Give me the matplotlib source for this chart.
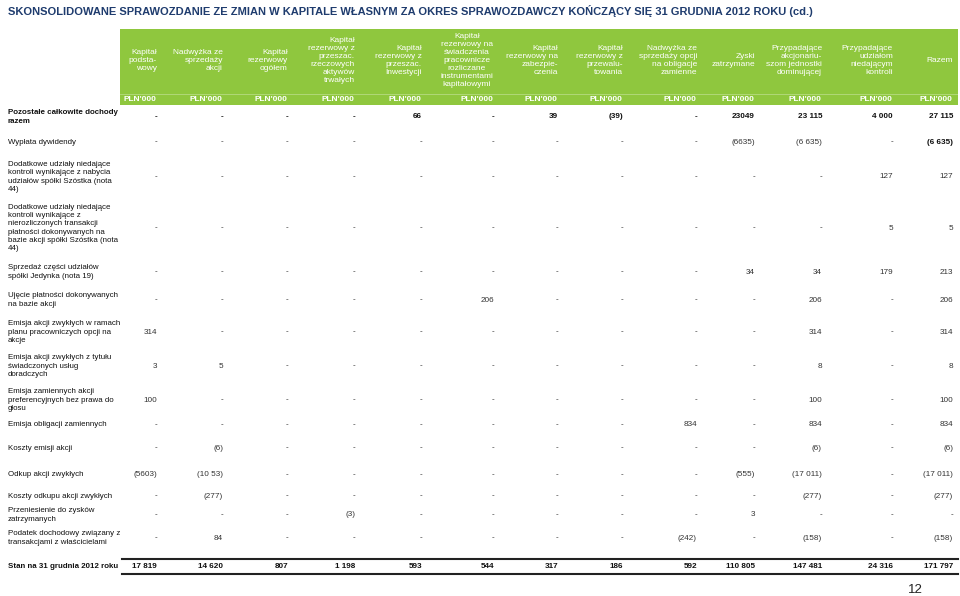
import matplotlib
matplotlib.use('AGG')
import matplotlib.pyplot as plt
from matplotlib.patches import Rectangle

plt.rcParams['font.family'] = ['Liberation Sans', 'DejaVu Sans']

title = ('SKONSOLIDOWANE SPRAWOZDANIE ZE ZMIAN W KAPITALE WŁASNYM ZA OKRES '
         'SPRAWOZDAWCZY KOŃCZĄCY SIĘ 31 GRUDNIA 2012 ROKU (cd.)')

headers = [
    'Kapitał\npodsta-\nwowy',
    'Nadwyżka ze\nsprzedaży\nakcji',
    'Kapitał\nrezerwowy\nogółem',
    'Kapitał\nrezerwowy z\nprzeszac.\nrzeczowych\naktywów\ntrwałych',
    'Kapitał\nrezerwowy z\nprzeszac.\nInwestycji',
    'Kapitał\nrezerwowy na\nświadczenia\npracownicze\nrozliczane\ninstrumentami\nkapitałowymi',
    'Kapitał\nrezerwowy na\nzabezpie-\nczenia',
    'Kapitał\nrezerwowy z\nprzewalu-\ntowania',
    'Nadwyżka ze\nsprzedaży opcji\nna obligacje\nzamienne',
    'Zyski\nzatrzymane',
    'Przypadające\nakcjonariu-\nszom jednostki\ndominującej',
    'Przypadające\nudziałom\nniedającym\nkontroli',
    'Razem',
]
unit = "PLN'000"

row_labels = [
    'Pozostałe całkowite dochody\nrazem',
    'Wypłata dywidendy',
    'Dodatkowe udziały niedające\nkontroli wynikające z nabycia\nudziałów spółki Szóstka (nota\n44)',
    'Dodatkowe udziały niedające\nkontroli wynikające z\nnierozliczonych transakcji\npłatności dokonywanych na\nbazie akcji spółki Szóstka (nota\n44)',
    'Sprzedaż części udziałów\nspółki Jedynka (nota 19)',
    'Ujęcie płatności dokonywanych\nna bazie akcji',
    'Emisja akcji zwykłych w ramach\nplanu pracowniczych opcji na\nakcje',
    'Emisja akcji zwykłych z tytułu\nświadczonych usług\ndoradczych',
    'Emisja zamiennych akcji\npreferencyjnych bez prawa do\ngłosu',
    'Emisja obligacji zamiennych',
    'Koszty emisji akcji',
    'Odkup akcji zwykłych',
    'Koszty odkupu akcji zwykłych',
    'Przeniesienie do zysków\nzatrzymanych',
    'Podatek dochodowy związany z\ntransakcjami z właścicielami',
    'Stan na 31 grudnia 2012 roku',
]

# one list per column, rows in the order of row_labels
kap_podstawowy = ['-', '-', '-', '-', '-', '-', '314', '3', '100', '-', '-', '(5603)', '-', '-', '-', '17 819']
nadwyzka_akcji = ['-', '-', '-', '-', '-', '-', '-', '5', '-', '-', '(6)', '(10 53)', '(277)', '-', '84', '14 620']
kap_rez_ogolem = ['-', '-', '-', '-', '-', '-', '-', '-', '-', '-', '-', '-', '-', '-', '-', '807']
kap_rez_trwale = ['-', '-', '-', '-', '-', '-', '-', '-', '-', '-', '-', '-', '-', '(3)', '-', '1 198']
kap_rez_inwest = ['66', '-', '-', '-', '-', '-', '-', '-', '-', '-', '-', '-', '-', '-', '-', '593']
kap_rez_swiadcz = ['-', '-', '-', '-', '-', '206', '-', '-', '-', '-', '-', '-', '-', '-', '-', '544']
kap_rez_zabezp = ['39', '-', '-', '-', '-', '-', '-', '-', '-', '-', '-', '-', '-', '-', '-', '317']
kap_rez_przewal = ['(39)', '-', '-', '-', '-', '-', '-', '-', '-', '-', '-', '-', '-', '-', '-', '186']
nadwyzka_opcji = ['-', '-', '-', '-', '-', '-', '-', '-', '-', '834', '-', '-', '-', '-', '(242)', '592']
zyski = ['23049', '(6635)', '-', '-', '34', '-', '-', '-', '-', '-', '-', '(555)', '-', '3', '-', '110 805']
akcjonariusze = ['23 115', '(6 635)', '-', '-', '34', '206', '314', '8', '100', '834', '(6)', '(17 011)', '(277)', '-', '(158)', '147 481']
udzialy_niekontr = ['4 000', '-', '127', '5', '179', '-', '-', '-', '-', '-', '-', '-', '-', '-', '-', '24 316']
razem = ['27 115', '(6 635)', '127', '5', '213', '206', '314', '8', '100', '834', '(6)', '(17 011)', '(277)', '-', '(158)', '171 797']

columns = [kap_podstawowy, nadwyzka_akcji, kap_rez_ogolem, kap_rez_trwale,
           kap_rez_inwest, kap_rez_swiadcz, kap_rez_zabezp, kap_rez_przewal,
           nadwyzka_opcji, zyski, akcjonariusze, udzialy_niekontr, razem]

# layout (pixels)
col_right = [157, 223, 288, 355, 422, 494, 558, 623, 697, 755, 822, 893, 953]
row_y = [117, 142, 177, 228, 272, 300, 332, 366, 400, 425, 448, 475, 496, 515, 538, 566]
green = '#8fc73e'
fs = 5.9
fs_lab = 5.65

fig = plt.figure(figsize=(9.6, 5.96), dpi=100)
ax = fig.add_axes([0, 0, 1, 1])
ax.set_xlim(0, 960)
ax.set_ylim(596, 0)
ax.axis('off')

ax.text(8, 11, title, fontsize=8.05, fontweight='bold', color='#1f3c6e', va='center')

# green header
ax.add_patch(Rectangle((120, 29), 838, 76, color=green, lw=0))
ax.plot([120, 958], [94, 94], color='white', lw=0.6, alpha=0.35)
for i, h in enumerate(headers):
    if i == 5:
        ax.text(467, 60, h, ha='center', va='center', multialignment='center',
                color='white', fontsize=6, linespacing=1.2)
    else:
        ax.text(col_right[i], 60, h, ha='right', va='center', multialignment='right',
                color='white', fontsize=6, linespacing=1.2)
    ax.text(col_right[i] - 1, 99.5, unit, ha='right', va='center', color='white',
            fontsize=6, fontweight='bold')

# rows
last = len(row_labels) - 1
for r, lab in enumerate(row_labels):
    bold = r in (0, last)
    ax.text(8, row_y[r], lab, ha='left', va='center', fontsize=fs_lab, linespacing=1.27,
            fontweight='bold' if bold else 'normal', color='#111')
    for c, col in enumerate(columns):
        w = 'bold' if (bold or (r == 1 and c == len(columns) - 1)) else 'normal'
        ax.text(col_right[c], row_y[r], col[r], ha='right', va='center', fontsize=fs,
                fontweight=w, color='#111' if w == 'bold' else '#333')

ax.plot([122, 958], [559, 559], color='#222', lw=1.5)
ax.plot([122, 958], [574, 574], color='#222', lw=1.5)

ax.text(915, 590, '12', fontsize=9.5, ha='center', va='center', color='#222')

fig.savefig('out.png', dpi=100)
